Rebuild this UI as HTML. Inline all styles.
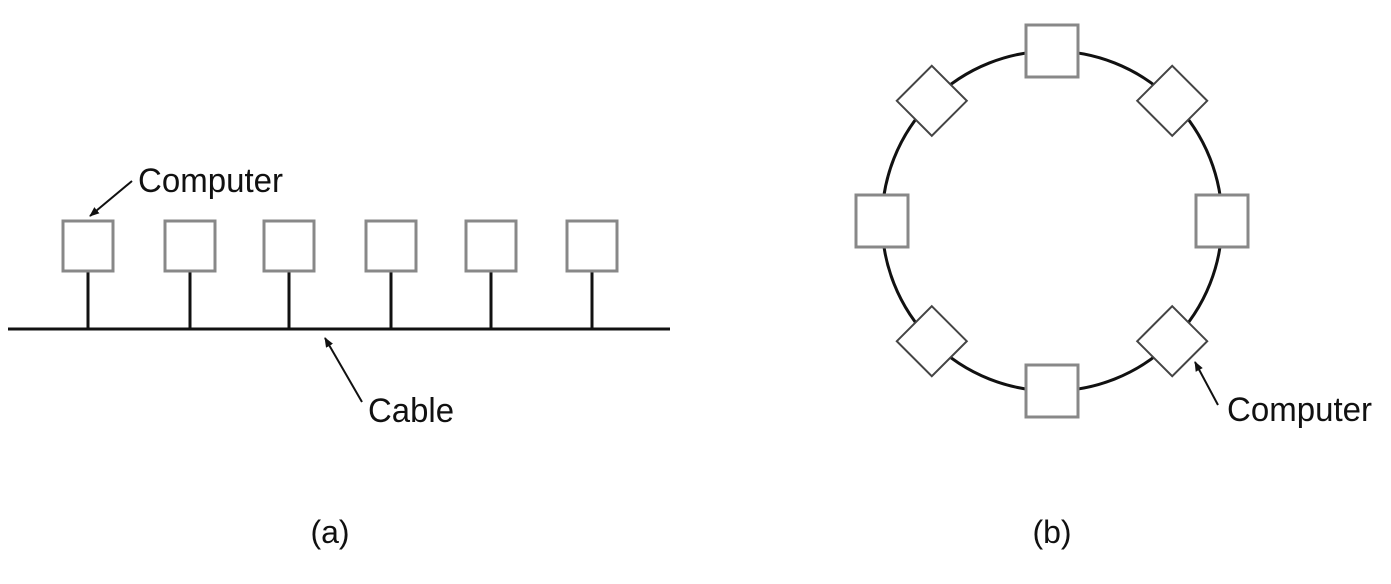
<!DOCTYPE html>
<html><head><meta charset="utf-8"><style>
html,body{margin:0;padding:0;background:#fff;}
svg{display:block;}
text{font-family:"Liberation Sans",sans-serif;fill:#111;}
</style></head><body>
<svg width="1391" height="584" viewBox="0 0 1391 584">
<defs><marker id="ah" markerWidth="10" markerHeight="8" refX="9" refY="4" orient="auto" markerUnits="userSpaceOnUse"><path d="M0,0 L10,4 L0,8 Z" fill="#111"/></marker></defs>
<g id="bus"></g>
<g id="ring"></g>
<text x="138" y="192" font-size="34" textLength="145" lengthAdjust="spacingAndGlyphs">Computer</text>
<line x1="132" y1="181" x2="90" y2="216" stroke="#111" stroke-width="2" marker-end="url(#ah)"/>
<text x="368" y="422" font-size="34" textLength="86" lengthAdjust="spacingAndGlyphs">Cable</text>
<line x1="362" y1="402" x2="325" y2="338" stroke="#111" stroke-width="2" marker-end="url(#ah)"/>
<text x="1227" y="421" font-size="34" textLength="145" lengthAdjust="spacingAndGlyphs">Computer</text>
<line x1="1218" y1="405" x2="1195" y2="362" stroke="#111" stroke-width="2" marker-end="url(#ah)"/>
<text x="330" y="543" font-size="32" text-anchor="middle">(a)</text>
<text x="1052" y="543" font-size="32" text-anchor="middle">(b)</text>
</svg>
<script>
const busX = [88, 190, 289, 391, 491, 592];
const ringAngles = [0, 45, 90, 135, 180, 225, 270, 315];
const NS = 'http://www.w3.org/2000/svg';
function mk(tag, attrs, parent){const e=document.createElementNS(NS,tag);for(const k in attrs)e.setAttribute(k,attrs[k]);parent.appendChild(e);return e;}
const bus = document.getElementById('bus');
let c = mk('line',{x1:8,y1:329,x2:670,y2:329,stroke:'#111','stroke-width':3},bus);


busX.forEach(x=>{
  const s = mk('line',{x1:x,y1:271,x2:x,y2:329,stroke:'#111','stroke-width':3},bus);
  
  
  const r = mk('rect',{x:x-25,y:221,width:50,height:50,fill:'#fff',stroke:'#888','stroke-width':3},bus);
  
  
});
const ring = document.getElementById('ring');
const cx=1052, cy=221, R=170;
const circ = mk('circle',{cx:cx,cy:cy,r:R,fill:'none',stroke:'#111','stroke-width':3},ring);


ringAngles.forEach(a=>{
  const rad=a*Math.PI/180, x=cx+R*Math.sin(rad), y=cy-R*Math.cos(rad);
  let n;
  if(a%90===0){
    n = mk('rect',{x:x-26,y:y-26,width:52,height:52,fill:'#fff',stroke:'#888','stroke-width':3},ring);
  } else {
    const h=35;
    n = mk('polygon',{points:`${x},${y-h} ${x+h},${y} ${x},${y+h} ${x-h},${y}`,fill:'#fff',stroke:'#444','stroke-width':2},ring);
  }
  
  
});
</script>
</body></html>
